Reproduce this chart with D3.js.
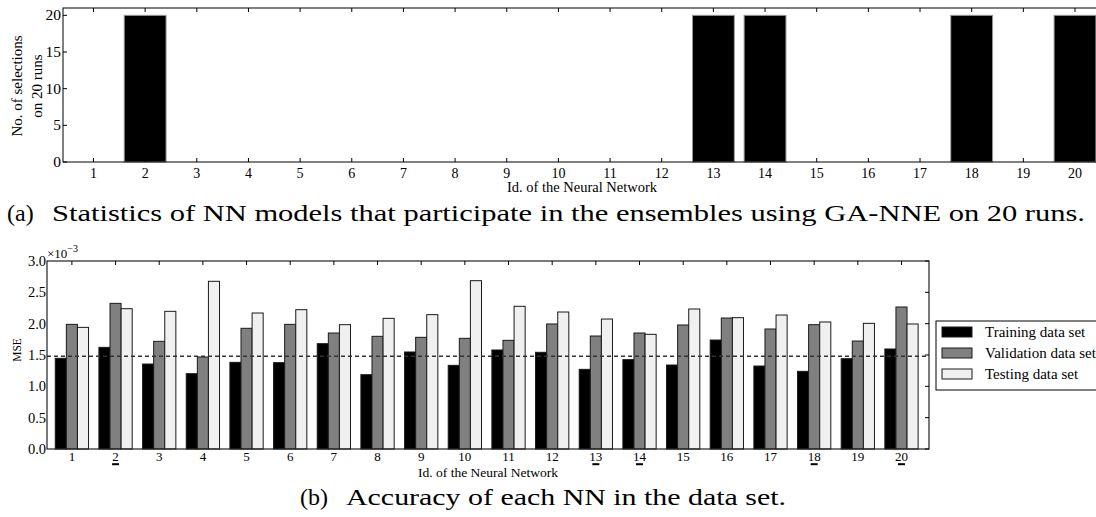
<!DOCTYPE html>
<html>
<head>
<meta charset="utf-8">
<script src="https://cdn.jsdelivr.net/npm/d3@7"></script>
<style>
  html, body { margin: 0; padding: 0; background: #fff; }
  svg { display: block; }
  text { font-family: "Liberation Serif", "DejaVu Serif", serif; fill: #000; }
</style>
</head>
<body>
<svg id="fig" width="1096" height="517"></svg>
<script>
// Network ids shown on both x axes
const networkIds = ["1","2","3","4","5","6","7","8","9","10","11","12","13","14","15","16","17","18","19","20"];

// (a) number of times each network was selected over the GA-NNE runs
const runs = 20;
const selections = [0, 20, 0, 0, 0, 0, 0, 0, 0, 0, 0, 0, 20, 20, 0, 0, 0, 20, 0, 20];
const selTicks = [0, 5, 10, 15, 20];

// (b) mean squared error of each network per data set
const trainingMSE   = [1.447e-3, 1.622e-3, 1.356e-3, 1.202e-3, 1.383e-3, 1.378e-3, 1.681e-3, 1.186e-3, 1.548e-3, 1.335e-3,
                       1.580e-3, 1.543e-3, 1.271e-3, 1.426e-3, 1.340e-3, 1.739e-3, 1.324e-3, 1.239e-3, 1.441e-3, 1.596e-3];
const validationMSE = [1.989e-3, 2.324e-3, 1.718e-3, 1.468e-3, 1.926e-3, 1.989e-3, 1.851e-3, 1.798e-3, 1.782e-3, 1.766e-3,
                       1.734e-3, 1.995e-3, 1.803e-3, 1.851e-3, 1.979e-3, 2.090e-3, 1.915e-3, 1.984e-3, 1.723e-3, 2.266e-3];
const testingMSE    = [1.941e-3, 2.239e-3, 2.197e-3, 2.676e-3, 2.170e-3, 2.223e-3, 1.984e-3, 2.085e-3, 2.144e-3, 2.686e-3,
                       2.277e-3, 2.186e-3, 2.074e-3, 1.830e-3, 2.234e-3, 2.096e-3, 2.138e-3, 2.027e-3, 2.005e-3, 1.995e-3];
const referenceMSE = 1.48e-3;
const mseTicks = [0, 0.5e-3, 1.0e-3, 1.5e-3, 2.0e-3, 2.5e-3, 3.0e-3];

const seriesNames  = ["Training data set", "Validation data set", "Testing data set"];
const seriesColors = ["#000000", "#808080", "#f0f0f0"];

const svg = d3.select("#fig");
const tickLen = 4;

/* ---------------- (a) selection counts ---------------- */
const A = { left: 63, right: 1106, top: 8, bottom: 162 };
const xA = d3.scaleLinear().domain([0.41, 20.6]).range([A.left, A.right]);
const yA = d3.scaleLinear().domain([0, 21]).range([A.bottom, A.top]);
const barWA = 0.81;

const gA = svg.append("g");

gA.selectAll("rect.sel")
  .data(selections)
  .join("rect")
  .attr("class", "sel")
  .attr("x", (d, i) => xA(+networkIds[i] - barWA / 2))
  .attr("width", xA(barWA) - xA(0))
  .attr("y", d => yA(d))
  .attr("height", d => yA(0) - yA(d))
  .attr("fill", "#000")
  .attr("stroke", d => d > 0 ? "#9a9a9a" : "#222")
  .attr("stroke-width", d => d > 0 ? 1 : 1.6);

// frame
gA.append("rect")
  .attr("x", A.left).attr("y", A.top)
  .attr("width", A.right - A.left).attr("height", A.bottom - A.top)
  .attr("fill", "none").attr("stroke", "#000").attr("stroke-width", 1);

// inward ticks on every side
gA.selectAll("line.xtA")
  .data(networkIds)
  .join("line")
  .attr("x1", d => xA(+d)).attr("x2", d => xA(+d))
  .attr("y1", A.top).attr("y2", A.top + tickLen)
  .attr("stroke", "#000");
gA.selectAll("line.xbA")
  .data(networkIds)
  .join("line")
  .attr("x1", d => xA(+d)).attr("x2", d => xA(+d))
  .attr("y1", A.bottom).attr("y2", A.bottom - tickLen)
  .attr("stroke", "#000");
gA.selectAll("line.ylA")
  .data(selTicks)
  .join("line")
  .attr("x1", A.left).attr("x2", A.left + tickLen)
  .attr("y1", d => yA(d)).attr("y2", d => yA(d))
  .attr("stroke", "#000");

// tick labels
gA.selectAll("text.xlabA")
  .data(networkIds)
  .join("text")
  .attr("x", d => xA(+d)).attr("y", 177.5)
  .attr("text-anchor", "middle")
  .style("font-size", "14px")
  .text(d => d);
gA.selectAll("text.ylabA")
  .data(selTicks)
  .join("text")
  .attr("x", A.left - 2).attr("y", d => yA(d) + 5)
  .attr("text-anchor", "end")
  .style("font-size", "15.5px")
  .text(d => d);

// axis titles
gA.append("text")
  .attr("x", 582).attr("y", 192)
  .attr("text-anchor", "middle")
  .style("font-size", "14.5px")
  .text("Id. of the Neural Network");
const ytA = gA.append("text")
  .attr("transform", "translate(22,86) rotate(-90)")
  .attr("text-anchor", "middle")
  .style("font-size", "15px");
ytA.append("tspan").attr("x", 0).attr("dy", 0).text("No. of selections");
ytA.append("tspan").attr("x", 0).attr("dy", 20).text("on 20 runs");

// caption (a)
svg.append("text").attr("x", 7).attr("y", 221).style("font-size", "24px").text("(a)");
svg.append("text").attr("x", 52).attr("y", 221).style("font-size", "24px")
  .attr("textLength", 1033).attr("lengthAdjust", "spacingAndGlyphs")
  .text("Statistics of NN models that participate in the ensembles using GA-NNE on 20 runs.");

/* ---------------- (b) MSE per network ---------------- */
const B = { left: 47, right: 929, top: 261, bottom: 449 };
const xB = d3.scaleLinear().domain([0.43, 20.63]).range([B.left, B.right]);
const yB = d3.scaleLinear().domain([0, 3e-3]).range([B.bottom, B.top]);
const barWB = 0.254;

const gB = svg.append("g");
const series = [trainingMSE, validationMSE, testingMSE];

series.forEach((vals, s) => {
  gB.selectAll("rect.s" + s)
    .data(vals)
    .join("rect")
    .attr("class", "s" + s)
    .attr("x", (d, i) => xB(+networkIds[i] + (s - 1.5) * barWB))
    .attr("width", xB(barWB) - xB(0))
    .attr("y", d => yB(d))
    .attr("height", d => yB(0) - yB(d))
    .attr("fill", seriesColors[s])
    .attr("stroke", "#1a1a1a")
    .attr("stroke-width", 1);
});

// reference MSE level
gB.append("line")
  .attr("x1", B.left).attr("x2", B.right)
  .attr("y1", yB(referenceMSE)).attr("y2", yB(referenceMSE))
  .attr("stroke", "#333").attr("stroke-width", 1.3)
  .attr("stroke-dasharray", "4,3");

// frame
gB.append("rect")
  .attr("x", B.left).attr("y", B.top)
  .attr("width", B.right - B.left).attr("height", B.bottom - B.top)
  .attr("fill", "none").attr("stroke", "#222").attr("stroke-width", 1.2);

// inward ticks
gB.selectAll("line.xtB")
  .data(networkIds)
  .join("line")
  .attr("x1", d => xB(+d)).attr("x2", d => xB(+d))
  .attr("y1", B.top).attr("y2", B.top + tickLen)
  .attr("stroke", "#000");
gB.selectAll("line.yrB")
  .data(mseTicks)
  .join("line")
  .attr("x1", B.right).attr("x2", B.right - tickLen)
  .attr("y1", d => yB(d)).attr("y2", d => yB(d))
  .attr("stroke", "#000");

// tick labels
gB.selectAll("text.xlabB")
  .data(networkIds)
  .join("text")
  .attr("x", d => xB(+d)).attr("y", 461)
  .attr("text-anchor", "middle")
  .style("font-size", "13px")
  .text(d => d);
// networks that were always selected get an underline mark
gB.selectAll("rect.under")
  .data(networkIds.filter((d, i) => selections[i] === runs))
  .join("rect")
  .attr("x", d => xB(+d) - 3.5).attr("y", 463.2)
  .attr("width", 7).attr("height", 2)
  .attr("fill", "#000");
gB.selectAll("text.ylabB")
  .data(mseTicks)
  .join("text")
  .attr("x", B.left - 1).attr("y", d => yB(d) + 5)
  .attr("text-anchor", "end")
  .style("font-size", "14.5px")
  .text(d => (d * 1e3).toFixed(1));

// scale multiplier
const mult = gB.append("text").attr("x", B.left).attr("y", 258).style("font-size", "13px");
mult.append("tspan").text("×10");
mult.append("tspan").attr("dy", -6).style("font-size", "10px").text("−3");

// axis titles
gB.append("text")
  .attr("x", 488).attr("y", 477)
  .attr("text-anchor", "middle")
  .style("font-size", "13.5px")
  .text("Id. of the Neural Network");
gB.append("text")
  .attr("transform", "translate(21,350) rotate(-90)")
  .attr("text-anchor", "middle")
  .style("font-size", "11.5px")
  .text("MSE");

// legend
const lg = svg.append("g");
lg.append("rect")
  .attr("x", 936).attr("y", 321).attr("width", 170).attr("height", 69)
  .attr("fill", "#fff").attr("stroke", "#000").attr("stroke-width", 1);
seriesNames.forEach((name, s) => {
  const yRow = 332 + s * 21;
  lg.append("rect")
    .attr("x", 942).attr("y", yRow - 5).attr("width", 30).attr("height", 10)
    .attr("fill", seriesColors[s]).attr("stroke", "#1a1a1a").attr("stroke-width", 1);
  lg.append("text")
    .attr("x", 985).attr("y", yRow + 5)
    .style("font-size", "15px")
    .text(name);
});

// caption (b)
svg.append("text").attr("x", 300).attr("y", 505).style("font-size", "24px").text("(b)");
svg.append("text").attr("x", 346).attr("y", 505).style("font-size", "24px")
  .attr("textLength", 440).attr("lengthAdjust", "spacingAndGlyphs")
  .text("Accuracy of each NN in the data set.");
</script>
</body>
</html>
